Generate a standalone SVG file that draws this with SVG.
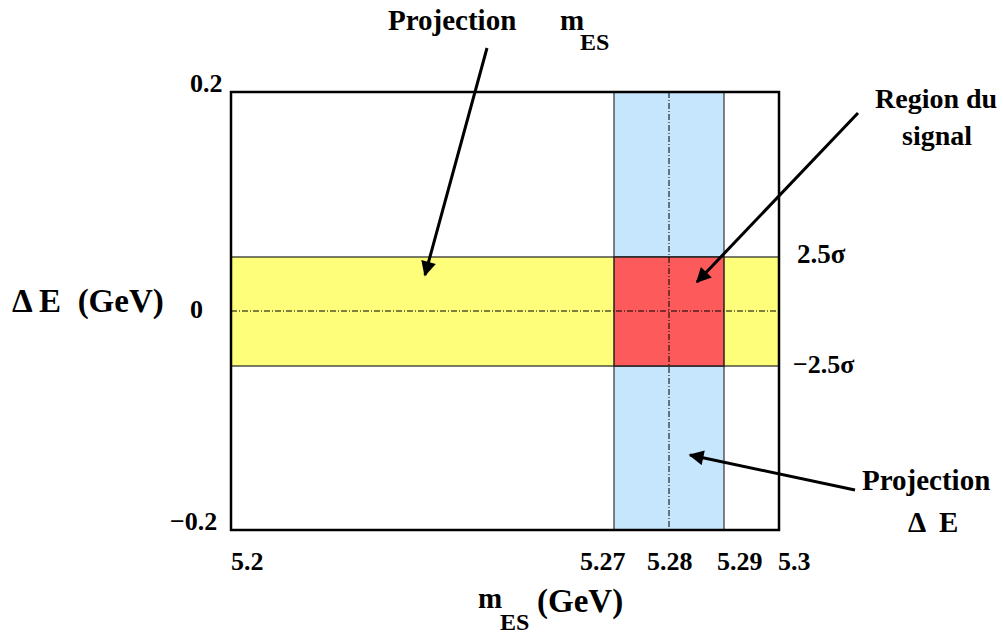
<svg xmlns="http://www.w3.org/2000/svg" width="1003" height="635" viewBox="0 0 1003 635">
<defs>
<style>
text{font-family:'Liberation Serif','Times New Roman',serif;font-weight:bold;fill:#000}
.t{font-size:29px}
.k{font-size:26px}
.a{stroke:#000;stroke-width:3;fill:none}
.dd{stroke:#000;stroke-width:1;stroke-dasharray:6,2,1,2;fill:none}
</style>
<marker id="ah" viewBox="0 0 10 10" refX="9" refY="5" markerWidth="5.5" markerHeight="5" orient="auto" markerUnits="strokeWidth">
<path d="M0,0 L10,5 L0,10 z" fill="#000"/>
</marker>
</defs>
<rect width="1003" height="635" fill="#fff"/>
<g id="plot">
<rect x="614" y="92" width="110" height="438" fill="#c5e6fd" stroke="#333" stroke-width="1.2"/>
<rect x="231" y="257" width="548" height="109" fill="#fefe7a" stroke="#222" stroke-width="1.2"/>
<rect x="614" y="257" width="110" height="109" fill="#fd5b5b" stroke="#222" stroke-width="1.5"/>
<line class="dd" x1="669" y1="92" x2="669" y2="530"/>
<line class="dd" x1="231" y1="311" x2="779" y2="311"/>
<rect x="231" y="92" width="548" height="438" fill="none" stroke="#000" stroke-width="2.5"/>
</g>
<g id="labels" font-family="Liberation Serif, serif" font-weight="bold">
<text class="k" x="190" y="92">0.2</text>
<text class="k" x="190" y="318">0</text>
<text class="k" x="170" y="530">−0.2</text>
<text x="12" y="312" style="font-size:33px" xml:space="preserve">Δ E  (GeV)</text>
<text class="k" x="797" y="263" style="font-size:27px">2.5σ</text>
<text class="k" x="793" y="373">−2.5σ</text>
<text class="k" x="231" y="570">5.2</text>
<text class="k" x="580" y="570">5.27</text>
<text class="k" x="647" y="570">5.28</text>
<text class="k" x="717" y="570">5.29</text>
<text class="k" x="778" y="570">5.3</text>
<text x="478" y="608" style="font-size:29px">m</text>
<text x="500" y="630" style="font-size:24px">ES</text>
<text x="537" y="612" style="font-size:33px">(GeV)</text>
</g>
<g id="projES" font-family="Liberation Serif, serif" font-weight="bold">
<text class="t" x="388" y="30">Projection</text>
<text class="t" x="560" y="30">m</text>
<text x="580" y="50" style="font-size:24px">ES</text>
</g>
<g id="region" font-family="Liberation Serif, serif" font-weight="bold">
<text x="875" y="108" style="font-size:28px">Region du</text>
<text x="937" y="145" style="font-size:28px" text-anchor="middle">signal</text>
</g>
<g id="projDE" font-family="Liberation Serif, serif" font-weight="bold">
<text class="t" x="862" y="490">Projection</text>
<text class="t" x="908" y="532" xml:space="preserve">Δ  E</text>
</g>
<g id="connectors">
<line class="a" x1="487" y1="48" x2="425" y2="275" marker-end="url(#ah)"/>
<line class="a" x1="858" y1="113" x2="697" y2="282" marker-end="url(#ah)"/>
<line class="a" x1="855" y1="490" x2="690" y2="455" marker-end="url(#ah)"/>
</g>
</svg>
